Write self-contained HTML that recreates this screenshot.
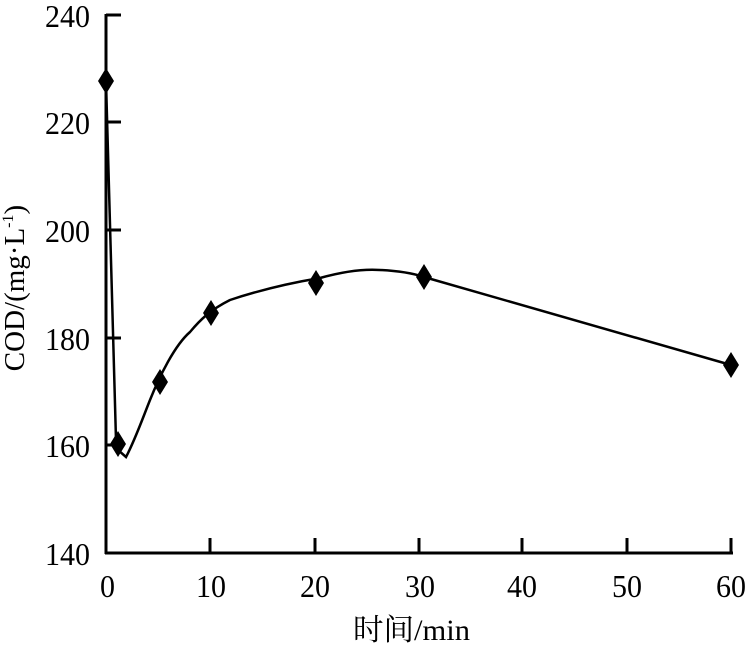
<!DOCTYPE html>
<html><head><style>body{margin:0;background:#fff}svg text{font-family:"Liberation Serif","Noto Serif CJK SC",serif;fill:#000}</style></head>
<body><svg width="750" height="645" viewBox="0 0 750 645">
<g stroke="#000" stroke-width="3" fill="none">
<line x1="106" y1="14" x2="106" y2="554"/>
<line x1="105" y1="553" x2="733" y2="553"/>
<line x1="106" y1="15" x2="121" y2="15"/>
<line x1="106" y1="122" x2="121" y2="122"/>
<line x1="106" y1="230" x2="121" y2="230"/>
<line x1="106" y1="338" x2="121" y2="338"/>
<line x1="106" y1="445" x2="121" y2="445"/>
<line x1="210" y1="553" x2="210" y2="538"/>
<line x1="315" y1="553" x2="315" y2="538"/>
<line x1="419" y1="553" x2="419" y2="538"/>
<line x1="522" y1="553" x2="522" y2="538"/>
<line x1="627" y1="553" x2="627" y2="538"/>
<line x1="731" y1="553" x2="731" y2="538"/>
</g>
<g stroke="#000" stroke-width="2.5" fill="none">
<path d="M106,81 L116,440 L118,450 L126,457 C135,440 142,420 150,400 C160,375 175,345 190,332 C200,320 210,310 230,300 C260,290 290,283 320,278 C345,271 365,269 380,270 C400,271 415,274 424,277 L731,365"/>
</g>
<g fill="#000">
<path d="M106,68 l8,13 -8,13 -8,-13z"/>
<path d="M118,431 l8,13 -8,13 -8,-13z"/>
<path d="M160,369 l8,13 -8,13 -8,-13z"/>
<path d="M211,300 l8,13 -8,13 -8,-13z"/>
<path d="M316,270 l8,13 -8,13 -8,-13z"/>
<path d="M424,264 l8,13 -8,13 -8,-13z"/>
<path d="M731,352 l8,13 -8,13 -8,-13z"/>
</g>
<g font-size="32">
<text x="45" y="27" textLength="45" lengthAdjust="spacingAndGlyphs">240</text>
<text x="45" y="134" textLength="45" lengthAdjust="spacingAndGlyphs">220</text>
<text x="45" y="242" textLength="45" lengthAdjust="spacingAndGlyphs">200</text>
<text x="45" y="350" textLength="45" lengthAdjust="spacingAndGlyphs">180</text>
<text x="45" y="457" textLength="45" lengthAdjust="spacingAndGlyphs">160</text>
<text x="45" y="565" textLength="45" lengthAdjust="spacingAndGlyphs">140</text>
</g>
<g font-size="32">
<text x="100" y="597" textLength="15" lengthAdjust="spacingAndGlyphs">0</text>
<text x="196" y="597" textLength="30" lengthAdjust="spacingAndGlyphs">10</text>
<text x="300" y="597" textLength="30" lengthAdjust="spacingAndGlyphs">20</text>
<text x="405" y="597" textLength="30" lengthAdjust="spacingAndGlyphs">30</text>
<text x="507" y="597" textLength="30" lengthAdjust="spacingAndGlyphs">40</text>
<text x="612" y="597" textLength="30" lengthAdjust="spacingAndGlyphs">50</text>
<text x="716" y="597" textLength="30" lengthAdjust="spacingAndGlyphs">60</text>
</g>
<text x="353" y="640" font-size="30" textLength="117" lengthAdjust="spacingAndGlyphs">时间/min</text>
<text transform="translate(24,288) rotate(-90)" font-size="29" text-anchor="middle">COD/(mg·L<tspan font-size="16" dy="-11">-1</tspan><tspan dy="11">)</tspan></text>
</svg></body></html>
